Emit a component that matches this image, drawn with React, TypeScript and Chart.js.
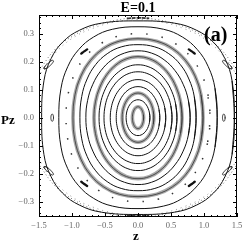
import { useEffect, useRef } from "react";
import { Chart, registerables } from "chart.js";
Chart.register(...registerables);

// axis ranges & tick labels
const X_MIN = -1.5;
const X_MAX = 1.5;
const Y_MIN = -0.355;
const Y_MAX = 0.367;
const X_TICKS = [-1.5, -1.0, -0.5, 0.0, 0.5, 1.0, 1.5];
const Y_TICKS = [-0.3, -0.2, -0.1, 0.0, 0.1, 0.2, 0.3];

// quadrant shape profiles (cos-like part, 0..90 deg)
const PROFILE_ELLIPSE = [1, 0.966, 0.866, 0.707, 0.5, 0.259, 0];
const PROFILE_SQ1 = [1, 0.969, 0.876, 0.728, 0.53, 0.29, 0];
const PROFILE_SQ2 = [1, 0.972, 0.887, 0.749, 0.561, 0.324, 0];
const PROFILE_SQ3 = [1, 0.976, 0.902, 0.781, 0.61, 0.381, 0];
const PROFILES = [PROFILE_ELLIPSE, PROFILE_SQ1, PROFILE_SQ2, PROFILE_SQ3];

// invariant curves: crossing of the z axis and of the Pz axis
const RING_Z = [0.085, 0.18, 0.24, 0.33, 0.42, 0.515, 0.59, 0.667, 0.79, 0.88, 0.985, 1.09, 1.2, 1.46];
const RING_PZ = [0.039, 0.064, 0.088, 0.111, 0.136, 0.164, 0.189, 0.218, 0.239, 0.261, 0.282, 0.3, 0.325, 0.346];
const RING_SHAPE = [0, 0, 0, 0, 0, 0, 0, 0, 0, 1, 1, 1, 2, 3];
const RING_KIND = ["thick", "thin", "thick", "thin", "thin", "thin", "thin", "thick", "thin", "thin", "thick", "dots", "thin", "thin"];

// chaotic band near the frame (upper-right quarter, mirrored)
const BAND_OUTER_Z = [0, 0.318, 0.682, 1.0, 1.258, 1.485, 1.6];
const BAND_OUTER_PZ = [0.357, 0.349, 0.327, 0.29, 0.244, 0.172, 0.13];
const BAND_INNER_Z = [0, 0.35, 0.7, 1.0, 1.25, 1.45, 1.58];
const BAND_INNER_PZ = [0.351, 0.342, 0.318, 0.283, 0.232, 0.17, 0.1];

// islands
const CORNER_ISLAND_Z = [-1.424, -1.379, -1.326, -1.28, -1.303, -1.356, -1.409];
const CORNER_ISLAND_PZ = [0.175, 0.177, 0.1875, 0.202, 0.205, 0.195, 0.184];
const DASH_ISLAND_Z = [-0.86, -0.815, -0.77];
const DASH_ISLAND_PZ = [0.229, 0.237, 0.244];
const AXIS_ISLAND_CENTER = 1.3;
const AXIS_ISLAND_SIZE = [0.02, 0.013];
const TOP_DENSE_Z = [-0.17, 0, 0.17];
const TOP_DENSE_PZ = [0.355, 0.357, 0.355];

const SIGNS = [
  [1, 1],
  [-1, 1],
  [1, -1],
  [-1, -1],
];

type P = { x: number; y: number };

function loop(cx: number, cy: number, a: number, b: number, prof: number[]): P[] {
  const n = prof.length;
  const c = (i: number) => prof[i];
  const s = (i: number) => prof[n - 1 - i];
  const pts: P[] = [];
  for (let i = 0; i < n; i++) pts.push({ x: cx + a * c(i), y: cy + b * s(i) });
  for (let i = n - 2; i >= 0; i--) pts.push({ x: cx - a * c(i), y: cy + b * s(i) });
  for (let i = 1; i < n; i++) pts.push({ x: cx - a * c(i), y: cy - b * s(i) });
  for (let i = n - 2; i >= 0; i--) pts.push({ x: cx + a * c(i), y: cy - b * s(i) });
  return [pts[pts.length - 2], ...pts, pts[1]];
}

function closedPoly(zs: number[], ps: number[], sx: number, sy: number): P[] {
  const pts = zs.map((z, i) => ({ x: z * sx, y: ps[i] * sy }));
  return [pts[pts.length - 1], ...pts, pts[0], pts[1]];
}

function band(zs: number[], ps: number[], sy: number): P[] {
  const pts: P[] = [];
  for (let i = zs.length - 1; i >= 0; i--) pts.push({ x: zs[i], y: ps[i] * sy });
  for (let i = 1; i < zs.length; i++) pts.push({ x: -zs[i], y: ps[i] * sy });
  return pts;
}

const FONT = "'Liberation Serif', 'DejaVu Serif', serif";

const fmt = (v: number) => {
  const s = Math.abs(v).toFixed(1);
  return v < -1e-9 ? "\u2212" + s : s;
};

const framePlugin = {
  id: "frame",
  afterDatasetsDraw(chart: any) {
    const { ctx, chartArea: ca, scales } = chart;
    const xs = scales.x;
    const ys = scales.y;
    ctx.save();
    ctx.strokeStyle = "#000";
    ctx.lineWidth = 1;
    ctx.strokeRect(Math.round(ca.left) + 0.5, Math.round(ca.top) + 0.5, Math.round(ca.right - ca.left) - 1, Math.round(ca.bottom - ca.top) - 1);
    ctx.beginPath();
    for (let k = -15; k <= 15; k++) {
      const v = k / 10;
      const px = Math.round(xs.getPixelForValue(v)) + 0.5;
      const len = k % 5 === 0 ? 4 : 2;
      ctx.moveTo(px, ca.bottom);
      ctx.lineTo(px, ca.bottom - len);
      ctx.moveTo(px, ca.top);
      ctx.lineTo(px, ca.top + len);
    }
    for (let k = -17; k <= 18; k++) {
      const v = k / 50;
      if (v < Y_MIN || v > Y_MAX) continue;
      const py = Math.round(ys.getPixelForValue(v)) + 0.5;
      const len = k % 5 === 0 ? 4 : 2;
      ctx.moveTo(ca.left, py);
      ctx.lineTo(ca.left + len, py);
      ctx.moveTo(ca.right, py);
      ctx.lineTo(ca.right - len, py);
    }
    ctx.stroke();

    ctx.fillStyle = "#000";
    ctx.textBaseline = "alphabetic";
    ctx.textAlign = "center";
    ctx.font = `bold 14px ${FONT}`;
    ctx.fillText("E=0.1", (ca.left + ca.right) / 2, 12);
    ctx.font = `bold 13px ${FONT}`;
    ctx.fillText("z", (ca.left + ca.right) / 2 - 2, 240);
    ctx.textAlign = "left";
    ctx.fillText("Pz", 1, 124);
    ctx.font = `bold 20px ${FONT}`;
    ctx.fillText("(a)", 204, 41);
    ctx.restore();
  },
};

export default function App() {
  const ref = useRef<HTMLCanvasElement | null>(null);
  useEffect(() => {
    document.body.style.margin = "0";
    const canvas = ref.current;
    if (!canvas) return;
    const datasets: any[] = [];
    const line = (data: P[], color: string, width: number, order: number, extra: any = {}) =>
      datasets.push({
        data,
        showLine: true,
        pointRadius: 0,
        borderColor: color,
        borderWidth: width,
        tension: 0.4,
        fill: false,
        order,
        ...extra,
      });

    RING_Z.forEach((a, i) => {
      const pts = loop(0, 0, a, RING_PZ[i], PROFILES[RING_SHAPE[i]]);
      const kind = RING_KIND[i];
      if (kind === "thick") {
        line(pts, "rgba(140,140,140,0.75)", 3.6, 3);
        line(pts, "#333", 0.8, 1);
      } else if (kind === "dots") {
        line(pts, "#333", 1.5, 1, { borderDash: [1.5, 14] });
      } else {
        line(pts, "#111", 1, 2);
      }
    });

    [1, -1].forEach((sy) => {
      line(band(BAND_OUTER_Z, BAND_OUTER_PZ, sy), "#777", 1, 2, { borderDash: [1, 2.5] });
      line(band(BAND_INNER_Z, BAND_INNER_PZ, sy), "#999", 1, 2, { borderDash: [1, 4] });
      line(
        TOP_DENSE_Z.map((z, i) => ({ x: z, y: TOP_DENSE_PZ[i] * sy - (sy < 0 ? -0.006 : 0) })),
        "#333",
        1.8,
        1,
        { borderDash: [4, 1] }
      );
    });

    SIGNS.forEach(([sx, sy]) => {
      line(closedPoly(CORNER_ISLAND_Z, CORNER_ISLAND_PZ, sx, sy), "#222", 0.9, 1);
      line(
        DASH_ISLAND_Z.map((z, i) => ({ x: z * sx, y: DASH_ISLAND_PZ[i] * sy })),
        "#111",
        2.3,
        1,
        { borderCapStyle: "round" }
      );
    });

    [1, -1].forEach((sx) => {
      line(loop(AXIS_ISLAND_CENTER * sx, 0, AXIS_ISLAND_SIZE[0], AXIS_ISLAND_SIZE[1], PROFILE_ELLIPSE), "#222", 0.9, 1);
    });

    const tickFont = { family: FONT, size: 8.5 };
    const chart = new Chart(canvas, {
      type: "scatter",
      data: { datasets },
      plugins: [framePlugin],
      options: {
        animation: false,
        responsive: false,
        devicePixelRatio: 1,
        events: [],
        layout: { padding: { left: 0, right: 6, top: 15, bottom: 0 } },
        plugins: { legend: { display: false }, tooltip: { enabled: false }, title: { display: false } },
        scales: {
          x: {
            type: "linear",
            min: X_MIN,
            max: X_MAX,
            grid: { display: false, drawTicks: false },
            border: { display: false },
            ticks: { font: tickFont, color: "#666", padding: 4, maxRotation: 0, callback: (v: any) => fmt(Number(v)) },
            afterBuildTicks: (s: any) => {
              s.ticks = X_TICKS.map((v) => ({ value: v }));
            },
            afterFit: (s: any) => {
              s.height = 33;
              s.paddingLeft = 0;
              s.paddingRight = 0;
            },
          },
          y: {
            type: "linear",
            min: Y_MIN,
            max: Y_MAX,
            grid: { display: false, drawTicks: false },
            border: { display: false },
            ticks: { font: tickFont, color: "#666", padding: 5, callback: (v: any) => fmt(Number(v)) },
            afterBuildTicks: (s: any) => {
              s.ticks = Y_TICKS.map((v) => ({ value: v }));
            },
            afterFit: (s: any) => {
              s.width = 39;
              s.paddingTop = 0;
              s.paddingBottom = 0;
            },
          },
        },
      },
    });
    return () => chart.destroy();
  }, []);
  return <canvas ref={ref} width={243} height={250} style={{ display: "block", width: 243, height: 250 }} />;
}
